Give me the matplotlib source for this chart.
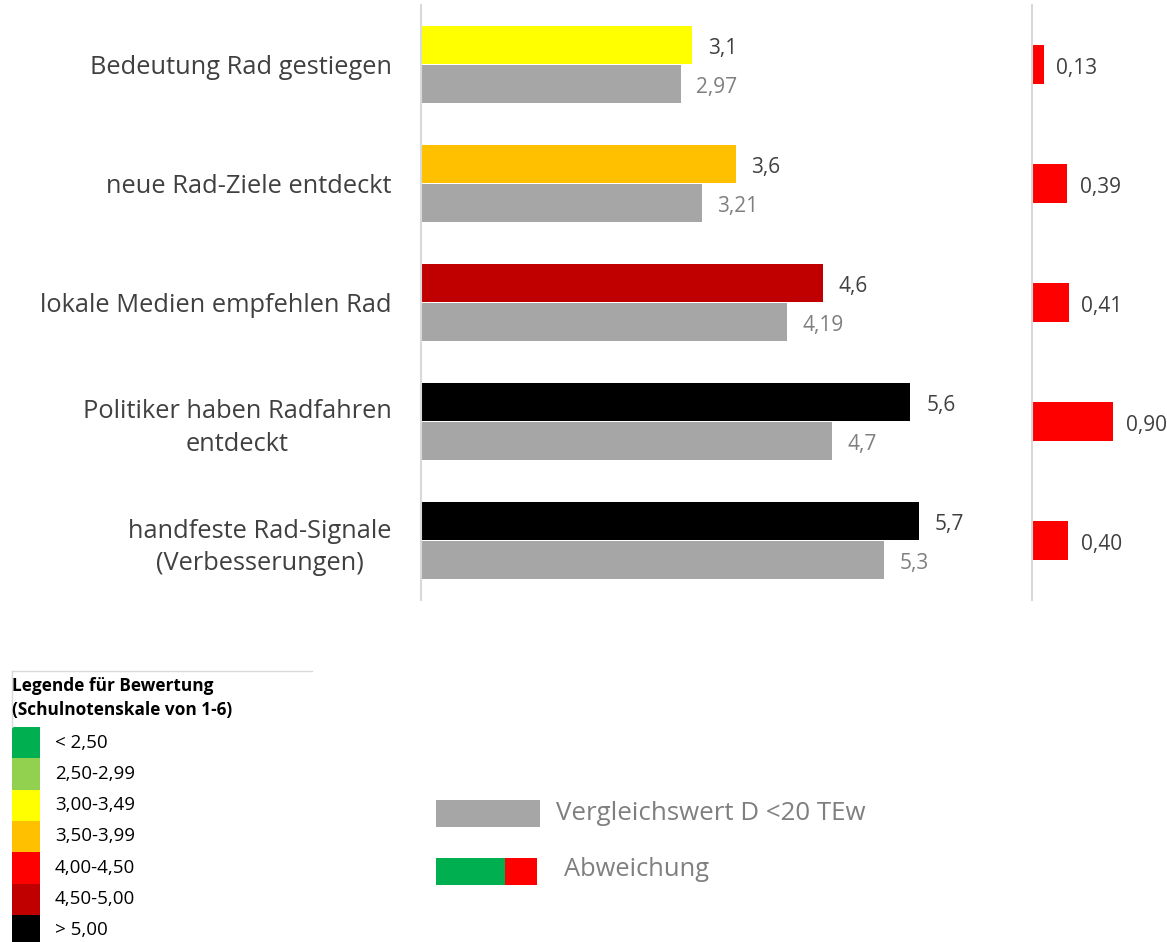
import numpy as np
import matplotlib.pyplot as plt
from matplotlib.patches import Rectangle

plt.rcParams['font.family'] = ['Open Sans', 'DejaVu Sans']

categories = ["Bedeutung Rad gestiegen", "neue Rad-Ziele entdeckt",
              "lokale Medien empfehlen Rad", "Politiker haben Radfahren\nentdeckt",
              "handfeste Rad-Signale\n(Verbesserungen)"]
values = [3.1, 3.6, 4.6, 5.6, 5.7]
value_labels = ["3,1", "3,6", "4,6", "5,6", "5,7"]
compare = [2.97, 3.21, 4.19, 4.7, 5.3]
compare_labels = ["2,97", "3,21", "4,19", "4,7", "5,3"]
deviation = [0.13, 0.39, 0.41, 0.90, 0.40]
deviation_labels = ["0,13", "0,39", "0,41", "0,90", "0,40"]

legend_title = "Legende für Bewertung\n(Schulnotenskale von 1-6)"
scale_labels = ["< 2,50", "2,50-2,99", "3,00-3,49", "3,50-3,99", "4,00-4,50", "4,50-5,00", "> 5,00"]
scale_colors = ["#00B050", "#92D050", "#FFFF00", "#FFC000", "#FF0000", "#C00000", "#000000"]


def grade_color(v):
    bounds = [2.5, 3.0, 3.5, 4.0, 4.5, 5.0]
    for b, c in zip(bounds, scale_colors):
        if v < b:
            return c
    return scale_colors[-1]


W, H = 1167, 942
fig = plt.figure(figsize=(W / 100, H / 100), dpi=100)

def px_axes(x0, y0, x1, y1):
    return fig.add_axes([x0 / W, 1 - y1 / H, (x1 - x0) / W, (y1 - y0) / H])

dy = 0.03  # small nudge so the digits sit on the bar centre

# main chart
ax = px_axes(421, 5, 1000, 600)
y = np.arange(len(categories))
h = 0.32
ax.barh(y - 0.165, values, height=h, color=[grade_color(v) for v in values])
ax.barh(y + 0.165, compare, height=h, color="#A6A6A6")
ax.set_xlim(0, 579 / 87.4)
ax.set_ylim(len(categories) - 0.5, -0.5)
for i in range(len(categories)):
    ax.text(values[i] + 0.18, y[i] - 0.165 + dy, value_labels[i], va="center", ha="left",
            fontsize=15, color="#404040")
    ax.text(compare[i] + 0.18, y[i] + 0.165 + dy, compare_labels[i], va="center", ha="left",
            fontsize=15, color="#7F7F7F")
ax.set_yticks(y)
ax.set_yticklabels(categories, fontsize=18.3, color="#404040", multialignment="center")
for t in ax.get_yticklabels():
    t.set_linespacing(1.4)
ax.tick_params(axis="y", length=0, pad=21)
ax.set_xticks([])
for s in ["top", "right", "bottom"]:
    ax.spines[s].set_visible(False)
ax.spines["left"].set_color("#D9D9D9")
ax.spines["left"].set_linewidth(1.5)

# deviation panel, same rows as the main chart
ax2 = px_axes(1032, 5, 1167, 600)
y2 = np.arange(len(deviation))
ax2.barh(y2, deviation, height=0.32, color="#FF0000")
ax2.set_xlim(0, 1.5)
ax2.set_ylim(len(deviation) - 0.5, -0.5)
for i in range(len(deviation)):
    ax2.text(deviation[i] + 0.14, y2[i] + dy, deviation_labels[i], va="center", ha="left",
             fontsize=15, color="#404040")
ax2.set_xticks([])
ax2.set_yticks([])
for s in ["top", "right", "bottom"]:
    ax2.spines[s].set_visible(False)
ax2.spines["left"].set_color("#D9D9D9")
ax2.spines["left"].set_linewidth(1.5)

# grade legend (bottom left)
lg = px_axes(0, 660, 330, 942)
lg.set_xlim(0, 330)
lg.set_ylim(282, 0)
lg.axis("off")
lg.plot([12, 312], [11, 11], color="#D9D9D9", lw=1)
lg.plot([12, 12], [11, 67], color="#D9D9D9", lw=1)
lg.text(12, 17, legend_title, va="top", ha="left", fontsize=12.4, fontweight="bold",
        color="#000000", linespacing=1.45)
for i, (lab, col) in enumerate(zip(scale_labels, scale_colors)):
    top = 67 + i * 31.3
    lg.add_patch(Rectangle((12, top), 28, 31.3, color=col, lw=0))
    lg.text(55, top + 15.5, lab, va="center", ha="left", fontsize=13.5, color="#000000")

# series legend (bottom middle)
sl = px_axes(420, 780, 880, 890)
sl.set_xlim(0, 460)
sl.set_ylim(110, 0)
sl.axis("off")
sl.add_patch(Rectangle((16, 20), 104, 27, color="#A6A6A6", lw=0))
sl.text(136, 34, "Vergleichswert D <20 TEw", va="center", ha="left", fontsize=18.6, color="#7F7F7F")
sl.add_patch(Rectangle((16, 78), 69, 27, color="#00B050", lw=0))
sl.add_patch(Rectangle((85, 78), 32, 27, color="#FF0000", lw=0))
sl.text(144, 90, "Abweichung", va="center", ha="left", fontsize=18.4, color="#7F7F7F")

fig.savefig("out.png", dpi=100)
